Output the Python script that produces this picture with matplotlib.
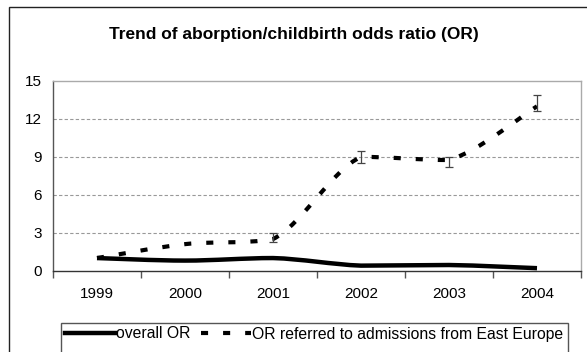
import matplotlib
matplotlib.use("Agg")
import matplotlib.pyplot as plt
import numpy as np
from matplotlib.lines import Line2D
from matplotlib.patches import PathPatch, Rectangle
from matplotlib.path import Path

plt.rcParams['font.family'] = ['Liberation Sans', 'DejaVu Sans']

years = ['1999', '2000', '2001', '2002', '2003', '2004']
overall_or = [1.0, 0.8, 1.0, 0.4, 0.45, 0.2]
east_europe_or = [1.0, 2.1, 2.5, 9.0, 8.75, 13.0]
# confidence bounds shown only where the source reports them
east_lo = [np.nan, np.nan, 2.3, 8.5, 8.2, 12.6]
east_hi = [np.nan, np.nan, 3.0, 9.5, 9.0, 13.9]


def smooth_path(xs, ys):
    # Catmull-Rom Bezier segments, control points kept inside each segment's
    # y-range so the curve does not overshoot
    pts = np.column_stack([xs, ys]).astype(float)
    n = len(pts)
    verts = [pts[0]]
    codes = [Path.MOVETO]
    for i in range(n - 1):
        p0 = pts[max(i - 1, 0)]
        p1 = pts[i]
        p2 = pts[i + 1]
        p3 = pts[min(i + 2, n - 1)]
        c1 = p1 + (p2 - p0) / 6.0
        c2 = p2 - (p3 - p1) / 6.0
        lo, hi = min(p1[1], p2[1]), max(p1[1], p2[1])
        c1[1] = np.clip(c1[1], lo, hi)
        c2[1] = np.clip(c2[1], lo, hi)
        verts += [c1, c2, p2]
        codes += [Path.CURVE4] * 3
    return Path(verts, codes)


fig = plt.figure(figsize=(5.87, 3.52), dpi=100)
W, H = 587, 352
ax = fig.add_axes([53 / W, 1 - 270.7 / H, (581 - 53) / W, (270.7 - 81) / H])

x = np.arange(len(years))

ax.add_patch(PathPatch(smooth_path(x, overall_or), fill=False, lw=3.2,
                       edgecolor='black', transform=ax.transData, zorder=4))
east = PathPatch(smooth_path(x, east_europe_or), fill=False, lw=3.0,
                 edgecolor='black', transform=ax.transData, zorder=4,
                 linestyle=(0, (1.7, 3.6)))
ax.add_patch(east)

east_arr = np.array(east_europe_or)
yerr = np.vstack([east_arr - np.array(east_lo), np.array(east_hi) - east_arr])
ax.errorbar(x, east_arr, yerr=yerr, fmt='none', ecolor='#444444',
            elinewidth=0.9, capsize=3, capthick=0.9, zorder=5)

ax.set_xlim(-0.5, 5.5)
ax.set_ylim(0, 15)
ax.set_yticks([0, 3, 6, 9, 12, 15])
ax.set_xticks(x)
ax.set_xticklabels(years)
ax.set_xticks(np.arange(-0.5, 6, 1), minor=True)
ax.tick_params(axis='x', which='major', length=0, pad=12, labelsize=11)
ax.tick_params(axis='x', which='minor', length=5, width=1, color='#555555')
ax.tick_params(axis='y', length=0, pad=8, labelsize=11)

for v in [3, 6, 9, 12]:
    ax.axhline(v, color='#999999', lw=0.8, ls=(0, (3, 2)), zorder=1)

ax.spines['left'].set_color('#555555')
ax.spines['bottom'].set_color('#333333')
ax.spines['top'].set_color('#aaaaaa')
ax.spines['right'].set_color('#aaaaaa')
for s in ax.spines.values():
    s.set_linewidth(1)

fig.text(0.5, 1 - 34.5 / H, 'Trend of aborption/childbirth odds ratio (OR)',
         ha='center', va='center', fontsize=12.5, fontweight='bold')

# outer chart frame and legend box
fig.patches.append(Rectangle((9 / W, -0.1), 1.2, 1.1 - 7 / H,
                             transform=fig.transFigure, fill=False,
                             edgecolor='#222222', lw=1))
fig.patches.append(Rectangle((61 / W, -0.1), (568 - 61) / W, 0.1 + 1 - 323 / H,
                             transform=fig.transFigure, fill=False,
                             edgecolor='#555555', lw=1))

handles = [Line2D([], [], color='black', lw=3.2),
           Line2D([], [], color='black', lw=3.0, ls=(0, (1.7, 3.6)))]
fig.legend(handles, ['overall OR', 'OR referred to admissions from East Europe'],
           loc='center left', bbox_to_anchor=(65 / W, 1 - 334 / H), ncol=2,
           frameon=False, fontsize=11.3, handlelength=3.2, handletextpad=0.05,
           columnspacing=0.65, borderpad=0, borderaxespad=0)

fig.savefig('out.png', dpi=100)
